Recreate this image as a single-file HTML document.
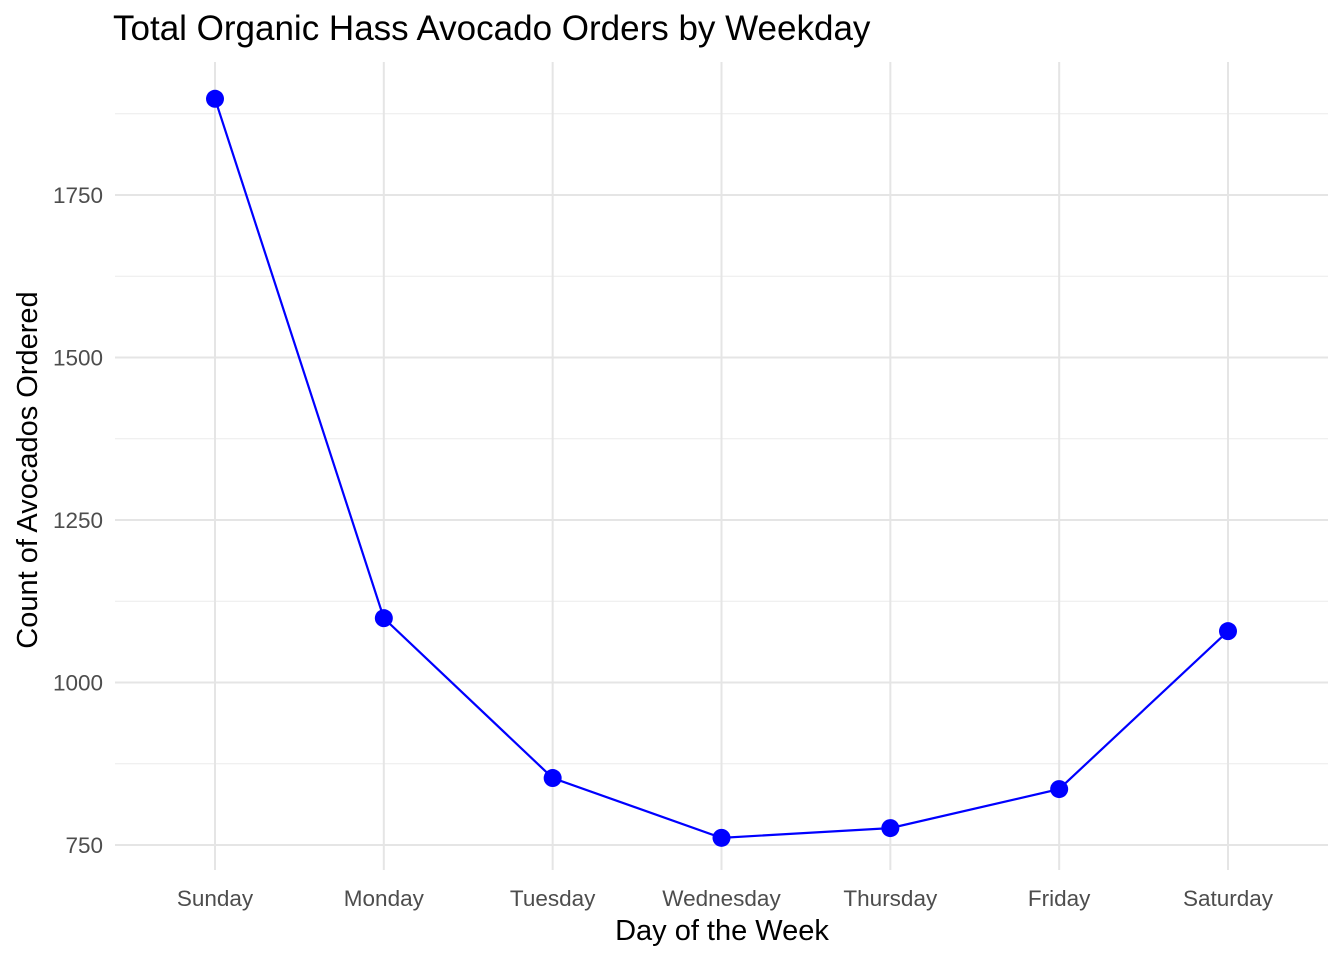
<!DOCTYPE html>
<html><head><meta charset="utf-8"><style>
body{margin:0;background:#fff;}
svg text{font-family:"Liberation Sans",Arial,sans-serif;}
</style></head><body>
<svg id="chart" width="1344" height="960" xmlns="http://www.w3.org/2000/svg">
<text x="113" y="40" font-size="35" fill="#000">Total Organic Hass Avocado Orders by Weekday</text>
<text x="722" y="940" font-size="29" text-anchor="middle" fill="#000">Day of the Week</text>
<text transform="translate(37,470) rotate(-90)" font-size="29" text-anchor="middle" fill="#000">Count of Avocados Ordered</text>
<g id="grid"></g><g id="ticks"></g><g id="series"></g>
</svg>
<script>
const days=["Sunday","Monday","Tuesday","Wednesday","Thursday","Friday","Saturday"];
const orders=[1898,1099,853,761,776,836,1079];
const yTicks=[750,1000,1250,1500,1750];
const yMinor=[875,1125,1375,1625,1875];
const NS="http://www.w3.org/2000/svg";
const px0=115,px1=1328,py0=62,py1=870;
const xS=i=>215+i*(1228-215)/(days.length-1);
const yS=v=>845-(v-750)*0.65;
function mk(tag,attrs,parent){const e=document.createElementNS(NS,tag);for(const k in attrs)e.setAttribute(k,attrs[k]);parent.appendChild(e);return e;}
const grid=document.getElementById('grid'),ticks=document.getElementById('ticks'),series=document.getElementById('series');
yMinor.forEach(v=>{const l=mk('line',{x1:px0,x2:px1,y1:yS(v),y2:yS(v),stroke:'#ebebeb','stroke-width':1},grid);

});
yTicks.forEach(v=>{const l=mk('line',{x1:px0,x2:px1,y1:yS(v),y2:yS(v),stroke:'#e5e5e5','stroke-width':2},grid);


const t=mk('text',{x:103,y:yS(v)+8,'font-size':22.5,fill:'#4d4d4d','text-anchor':'end'},ticks);t.textContent=v;

});
days.forEach((d,i)=>{const l=mk('line',{x1:xS(i),x2:xS(i),y1:py0,y2:py1,stroke:'#e5e5e5','stroke-width':2},grid);


const t=mk('text',{x:xS(i),y:906,'font-size':22.5,fill:'#4d4d4d','text-anchor':'middle'},ticks);t.textContent=d;

});
const pl=mk('polyline',{points:orders.map((v,i)=>xS(i)+','+yS(v)).join(' '),fill:'none',stroke:'#0000ff','stroke-width':2.2},series);


orders.forEach((v,i)=>{const c=mk('circle',{cx:xS(i),cy:yS(v),r:9,fill:'#0000ff'},series);

});
</script>
</body></html>
